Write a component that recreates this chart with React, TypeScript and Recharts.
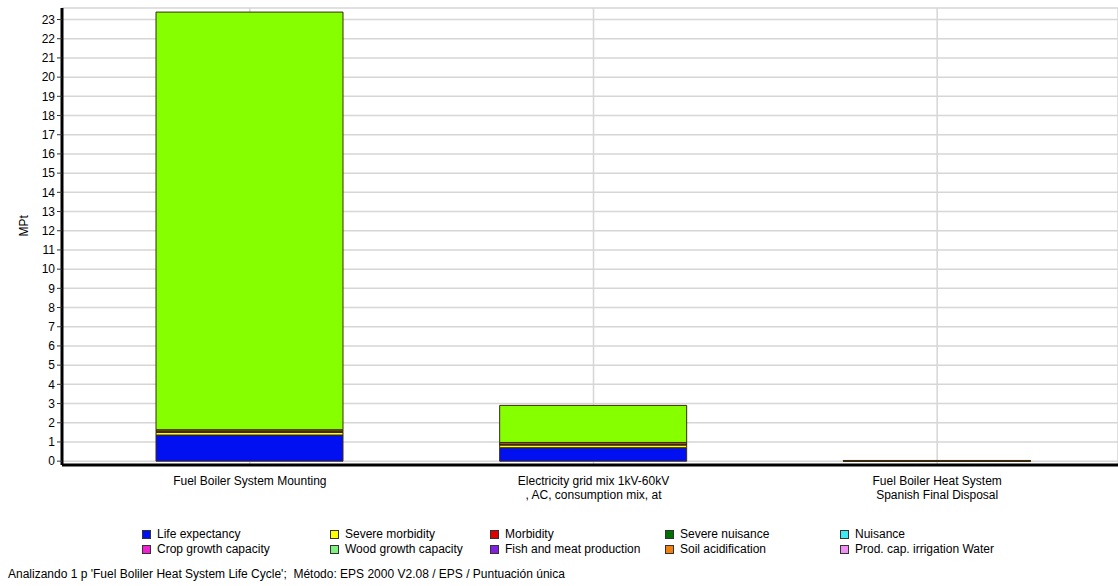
import { BarChart, Bar, XAxis, YAxis, CartesianGrid } from "recharts"

const FONT = "'Liberation Sans', Arial, sans-serif"

// process categories (x axis)
const categories = [
  "Fuel Boiler System Mounting",
  "Electricity grid mix 1kV-60kV\n, AC, consumption mix, at",
  "Fuel Boiler Heat System\nSpanish Final Disposal",
]

// damage categories, MPt per process
const lifeExpectancy = [1.36, 0.7, 0.01]
const severeMorbidity = [0.14, 0.14, 0.004]
const morbidity = [0.03, 0.03, 0.002]
const severeNuisance = [0.005, 0.004, 0]
const nuisance = [0.003, 0.002, 0]
const cropGrowth = [0.01, 0.01, 0.002]
const woodGrowth = [0.005, 0.004, 0.001]
const fishMeat = [0.002, 0.002, 0]
const soilAcidification = [0.08, 0.08, 0.003]
const irrigationWater = [0.002, 0.002, 0.002]
const depletionReserves = [21.75, 1.93, 0.012]

const yTicks = [0, 1, 2, 3, 4, 5, 6, 7, 8, 9, 10, 11, 12, 13, 14, 15, 16, 17, 18, 19, 20, 21, 22, 23]
const minorTicks = [0, 1, 2, 3, 4, 5, 6, 7, 8, 9, 10, 11, 12]

const series = [
  { key: "life", name: "Life expectancy", color: "#0010f0", values: lifeExpectancy },
  { key: "sevMorb", name: "Severe morbidity", color: "#ffff00", values: severeMorbidity },
  { key: "morb", name: "Morbidity", color: "#e00000", values: morbidity },
  { key: "sevNuis", name: "Severe nuisance", color: "#007000", values: severeNuisance },
  { key: "nuis", name: "Nuisance", color: "#40e8f0", values: nuisance },
  { key: "crop", name: "Crop growth capacity", color: "#f020d0", values: cropGrowth },
  { key: "wood", name: "Wood growth capacity", color: "#80f080", values: woodGrowth },
  { key: "fish", name: "Fish and meat production", color: "#8020e0", values: fishMeat },
  { key: "soil", name: "Soil acidification", color: "#f08010", values: soilAcidification },
  { key: "irrig", name: "Prod. cap. irrigation Water", color: "#f090f0", values: irrigationWater },
  { key: "depl", name: "Depletion of reserves", color: "#86ff00", values: depletionReserves, hidden: true },
]

const data = categories.map((name, i) => {
  const row: any = { name }
  series.forEach(s => { row[s.key] = s.values[i] })
  return row
})

// legend layout: 5 columns, 2 rows
const legendCols = [142, 330, 490, 665, 840]

function CategoryTick({ x, y, payload }: any) {
  const lines = String(payload.value).split("\n")
  return (
    <text x={x} y={y} textAnchor="middle" fontSize={12} fontFamily={FONT} fill="#000">
      {lines.map((l, i) => (
        <tspan key={i} x={x} dy={i === 0 ? 12 : 14}>{l}</tspan>
      ))}
    </text>
  )
}

export default function App() {
  const legendItems = series.filter(s => !s.hidden)
  return (
    <div style={{ position: "absolute", left: 0, top: 0, width: 1118, height: 586, background: "#fff", fontFamily: FONT }}>
      <BarChart
        width={1118}
        height={520}
        data={data}
        margin={{ top: 8, right: 0, left: 12, bottom: 0 }}
        barSize={187}
      >
        <CartesianGrid stroke="#d6d6d6" strokeWidth={1.5} xAxisId="cat" />
        <XAxis
          xAxisId="top"
          orientation="top"
          type="number"
          domain={[0, 1]}
          height={0}
          tick={false}
          tickLine={false}
          axisLine={{ stroke: "#555", strokeWidth: 1.5 }}
        />
        <XAxis
          xAxisId="minor"
          type="number"
          domain={[0, 12]}
          ticks={minorTicks}
          height={0}
          tick={false}
          tickSize={4}
          tickLine={{ stroke: "#777" }}
          axisLine={false}
          padding={{ left: 16, right: 9 }}
        />
        <XAxis
          xAxisId="cat"
          dataKey="name"
          height={55}
          interval={0}
          tickLine={false}
          tick={<CategoryTick />}
          axisLine={{ stroke: "#000", strokeWidth: 3 }}
          padding={{ left: 16, right: 9 }}
        />
        <YAxis
          width={50}
          domain={[-0.2, 23.6]}
          ticks={yTicks}
          interval={0}
          tickSize={5}
          tickMargin={2}
          tick={{ fontSize: 12, fill: "#000", fontFamily: FONT }}
          tickLine={{ stroke: "#333" }}
          axisLine={{ stroke: "#000", strokeWidth: 3 }}
          allowDataOverflow
          label={{ value: "MPt", angle: -90, position: "insideLeft", offset: 12, style: { fontSize: 12, fill: "#000", fontFamily: FONT } }}
        />
        {series.map(s => (
          <Bar
            key={s.key}
            xAxisId="cat"
            dataKey={s.key}
            name={s.name}
            stackId="a"
            fill={s.color}
            stroke="#3a2a10"
            strokeWidth={1}
            isAnimationActive={false}
          />
        ))}
      </BarChart>

      {legendItems.map((s, i) => {
        const col = i % 5
        const row = Math.floor(i / 5)
        return (
          <div
            key={s.key}
            style={{
              position: "absolute",
              left: legendCols[col],
              top: 527 + row * 15,
              fontSize: 12,
              color: "#000",
              whiteSpace: "nowrap",
              display: "flex",
              alignItems: "center",
            }}
          >
            <span style={{ display: "inline-block", width: 7, height: 7, background: s.color, border: "1px solid #333", marginRight: 6 }} />
            {s.name}
          </div>
        )
      })}

      <div style={{ position: "absolute", left: 8, top: 567, fontSize: 12, color: "#000", whiteSpace: "pre" }}>
        {"Analizando 1 p 'Fuel Boliler Heat System Life Cycle';  Método: EPS 2000 V2.08 / EPS / Puntuación única"}
      </div>
    </div>
  )
}
